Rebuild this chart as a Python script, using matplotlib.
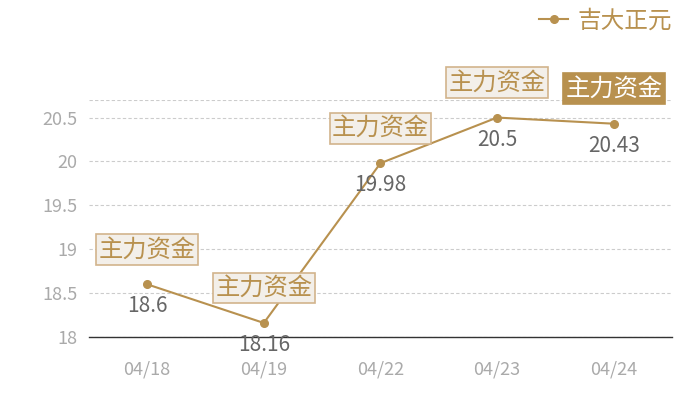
import matplotlib
matplotlib.use('Agg')
import matplotlib.pyplot as plt

plt.rcParams['font.family'] = ['Noto Sans CJK SC', 'DejaVu Sans']

dates = ['04/18', '04/19', '04/22', '04/23', '04/24']
prices = [18.6, 18.16, 19.98, 20.5, 20.43]
tag = '主力资金'
series_name = '吉大正元'

gold = '#b8914f'

fig = plt.figure(figsize=(7, 4), dpi=100)
ax = fig.add_axes([0.127, 0.1575, 0.833, 0.5925])

x = list(range(len(dates)))
ax.plot(x, prices, color=gold, lw=1.5, marker='o', ms=5.5, label=series_name)

for i, v in enumerate(prices):
    ax.annotate(f'{v:g}', (i, v), xytext=(0, -22), textcoords='offset pixels',
                ha='center', va='center', fontsize=15, color='#666666')
    last = i == len(prices) - 1
    ax.annotate(tag, (i, v), xytext=(0, 35), textcoords='offset pixels',
                ha='center', va='center', fontsize=17.5,
                color='white' if last else gold,
                bbox=dict(boxstyle='square,pad=0.1',
                          fc=gold if last else '#f3efe9',
                          ec='#d2b48c' if not last else gold, lw=1.2))

ax.set_xlim(-0.5, len(dates) - 0.5)
ax.set_ylim(18, 20.7)
ax.set_xticks(x)
ax.set_xticklabels(dates)
ax.set_yticks([18, 18.5, 19, 19.5, 20, 20.5])
ax.set_yticklabels(['18', '18.5', '19', '19.5', '20', '20.5'])
ax.tick_params(length=0, labelsize=13, labelcolor='#aaaaaa')
ax.tick_params(axis='x', pad=17)
ax.tick_params(axis='y', pad=8)

for yv in [18, 18.5, 19, 19.5, 20, 20.5, 20.7]:
    ax.axhline(yv, color='#cccccc', lw=0.8, ls=(0, (3, 2)), zorder=0)

for s in ['top', 'right', 'left']:
    ax.spines[s].set_visible(False)
ax.spines['bottom'].set_color('#333333')
ax.spines['bottom'].set_linewidth(1)

fig.legend(loc='upper right', bbox_to_anchor=(0.99, 1.03), frameon=False,
           fontsize=17, labelcolor=gold, handlelength=1.2, handletextpad=0.4)

fig.savefig('out.png', dpi=100)
